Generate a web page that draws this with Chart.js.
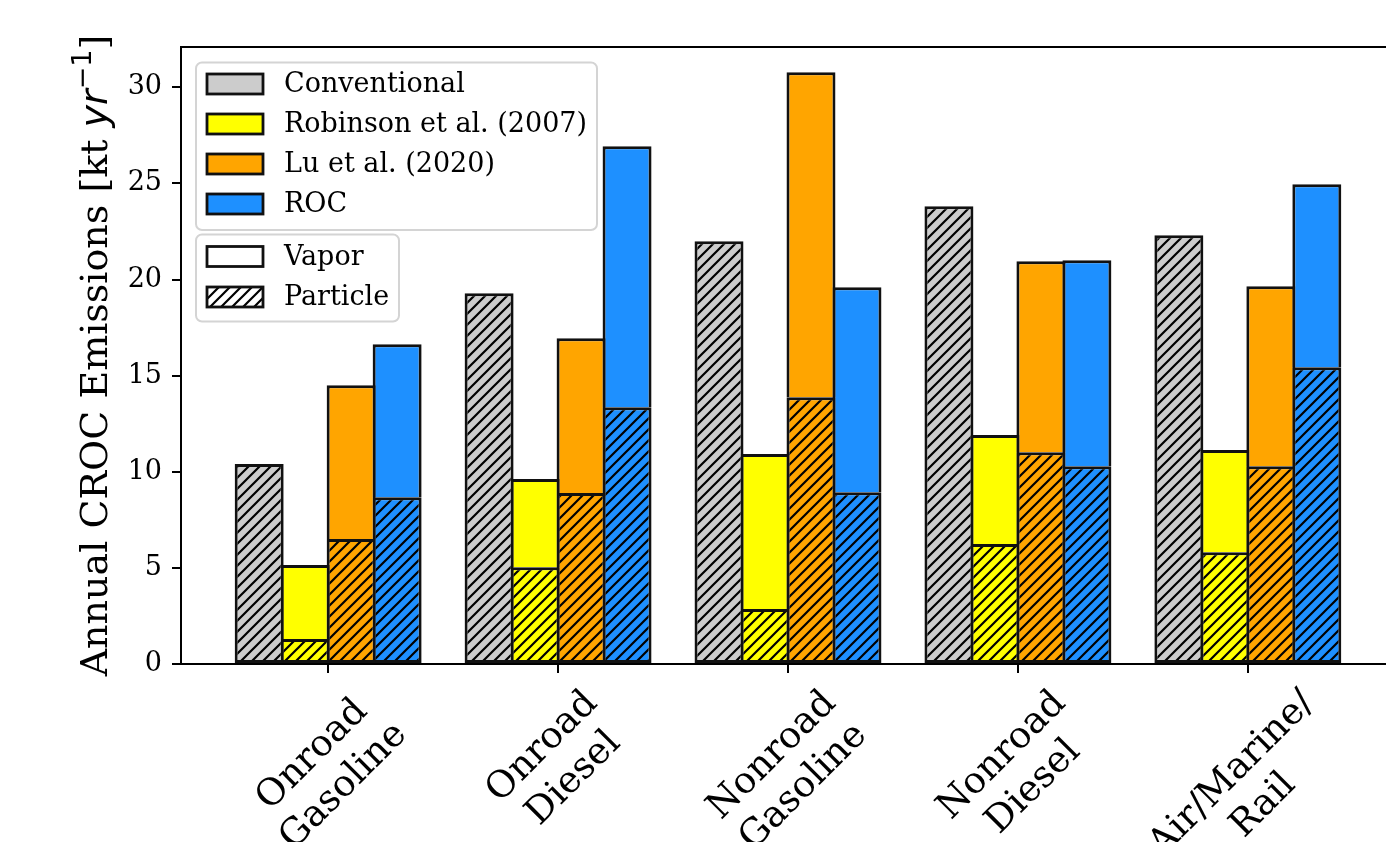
<!DOCTYPE html>
<html>
<head>
<meta charset="utf-8">
<script src="https://cdn.jsdelivr.net/npm/chart.js@4.4.1/dist/chart.umd.min.js"></script>
<style>
  html, body { margin: 0; padding: 0; background: #fff; overflow: hidden; width: 1386px; height: 842px; }
  #wrap { position: relative; width: 1400px; height: 842px; }
</style>
</head>
<body>
<div id="wrap"><canvas id="c" width="1400" height="842"></canvas></div>
<script>
// Source categories (multi-line tick labels)
const categories = [
  ['Onroad', 'Gasoline'],
  ['Onroad', 'Diesel'],
  ['Nonroad', 'Gasoline'],
  ['Nonroad', 'Diesel'],
  ['Air/Marine/', 'Rail']
];

// Annual CROC emissions, kt/yr, split into particle and vapor phase
const conventionalParticle = [10.40, 19.29, 21.99, 23.81, 22.30];
const robinsonParticle     = [1.30, 5.04, 2.86, 6.24, 5.82];
const robinsonVapor        = [3.85, 4.58, 8.06, 5.67, 5.31];
const luParticle           = [6.50, 8.89, 13.88, 11.02, 10.29];
const luVapor              = [8.00, 8.06, 16.90, 9.93, 9.36];
const rocParticle          = [8.68, 13.36, 8.94, 10.29, 15.44];
const rocVapor             = [7.96, 13.57, 10.66, 10.71, 9.52];

const yTicks = [0, 5, 10, 15, 20, 25, 30];

const methodNames = ['Conventional', 'Robinson et al. (2007)', 'Lu et al. (2020)', 'ROC'];
const phaseNames = ['Vapor', 'Particle'];

const COLORS = { conv: '#cccccc', rob: '#ffff00', lu: '#ffa500', roc: '#1e90ff' };
const SERIF = '"DejaVu Serif", serif';
const EDGE = 3;

const canvas = document.getElementById('c');
const mainCtx = canvas.getContext('2d');

// diagonal "///" hatch pattern on a coloured background
function hatch(color) {
  const s = 11;
  const t = document.createElement('canvas');
  t.width = s; t.height = s;
  const g = t.getContext('2d');
  g.fillStyle = color;
  g.fillRect(0, 0, s, s);
  g.strokeStyle = '#000';
  g.lineWidth = 2.2;
  g.beginPath();
  g.moveTo(-1, s + 1); g.lineTo(s + 1, -1);
  g.moveTo(-s / 2 - 1, s / 2 + 1); g.lineTo(s / 2 + 1, -s / 2 - 1);
  g.moveTo(s / 2 - 1, s * 1.5 + 1); g.lineTo(s * 1.5 + 1, s / 2 - 1);
  g.stroke();
  return mainCtx.createPattern(t, 'repeat');
}

const toPoints = arr => arr.map((v, i) => ({ x: i, y: v }));

function particleSet(label, values, color, stack) {
  return {
    label, stack, data: toPoints(values),
    backgroundColor: hatch(color),
    borderColor: '#111', borderWidth: EDGE, borderSkipped: false
  };
}
function vaporSet(label, values, color, stack) {
  return {
    label, stack, data: toPoints(values),
    backgroundColor: color,
    borderColor: '#111', borderWidth: EDGE, borderSkipped: 'start'
  };
}

const datasets = [
  particleSet('Conventional particle', conventionalParticle, COLORS.conv, 'conv'),
  particleSet('Robinson particle', robinsonParticle, COLORS.rob, 'rob'),
  vaporSet('Robinson vapor', robinsonVapor, COLORS.rob, 'rob'),
  particleSet('Lu particle', luParticle, COLORS.lu, 'lu'),
  vaporSet('Lu vapor', luVapor, COLORS.lu, 'lu'),
  particleSet('ROC particle', rocParticle, COLORS.roc, 'roc'),
  vaporSet('ROC vapor', rocVapor, COLORS.roc, 'roc')
];

function roundRect(ctx, x, y, w, h, r) {
  ctx.beginPath();
  ctx.moveTo(x + r, y);
  ctx.lineTo(x + w - r, y); ctx.arcTo(x + w, y, x + w, y + r, r);
  ctx.lineTo(x + w, y + h - r); ctx.arcTo(x + w, y + h, x + w - r, y + h, r);
  ctx.lineTo(x + r, y + h); ctx.arcTo(x, y + h, x, y + h - r, r);
  ctx.lineTo(x, y + r); ctx.arcTo(x, y, x + r, y, r);
  ctx.closePath();
}

function drawLegendBox(ctx, box, rows) {
  ctx.save();
  roundRect(ctx, box.x, box.y, box.w, box.h, 6);
  ctx.fillStyle = 'rgba(255,255,255,0.8)';
  ctx.fill();
  ctx.strokeStyle = '#d4d4d4';
  ctx.lineWidth = 2;
  ctx.stroke();
  rows.forEach((r, i) => {
    const yc = box.rowY0 + i * box.rowStep;
    ctx.fillStyle = r.fill;
    ctx.fillRect(207, yc - 10, 56, 20);
    ctx.strokeStyle = '#111';
    ctx.lineWidth = 2.8;
    ctx.strokeRect(207, yc - 10, 56, 20);
    ctx.fillStyle = '#000';
    ctx.font = '27px ' + SERIF;
    ctx.textAlign = 'left';
    ctx.textBaseline = 'middle';
    ctx.fillText(r.label, 284, yc + 1);
  });
  ctx.restore();
}

const decorations = {
  id: 'decorations',
  afterDraw(chart) {
    const ctx = chart.ctx;
    const area = chart.chartArea;
    const xs = chart.scales.x;

    ctx.save();
    // top spine
    ctx.strokeStyle = '#000';
    ctx.lineWidth = 2;
    ctx.beginPath();
    ctx.moveTo(area.left - 1, area.top);
    ctx.lineTo(area.right, area.top);
    ctx.stroke();

    // rotated, centred two-line category labels
    const fs = 37, lh = fs * 1.2;
    ctx.font = fs + 'px ' + SERIF;
    ctx.fillStyle = '#000';
    categories.forEach((lines, i) => {
      const px = xs.getPixelForValue(i);
      const W = Math.max(...lines.map(l => ctx.measureText(l).width));
      const H = lines.length * lh;
      const side = (W + H) * Math.SQRT1_2;
      const cy = 682 + side / 2;
      ctx.save();
      ctx.translate(px, cy);
      ctx.rotate(-Math.PI / 4);
      ctx.textAlign = 'center';
      ctx.textBaseline = 'middle';
      lines.forEach((l, k) => ctx.fillText(l, 0, (k - (lines.length - 1) / 2) * lh));
      ctx.restore();
    });

    // y axis title with italic unit and superscript
    const segs = [
      { t: 'Annual CROC Emissions [kt ', f: '38px ' + SERIF, dy: 0 },
      { t: 'yr', f: 'italic 38px "DejaVu Sans"', dy: 0 },
      { t: '\u22121', f: '27px "DejaVu Sans"', dy: -16 },
      { t: ']', f: '38px ' + SERIF, dy: 0 }
    ];
    let total = 0;
    segs.forEach(s => { ctx.font = s.f; s.w = ctx.measureText(s.t).width; total += s.w; });
    ctx.save();
    ctx.translate(107, (area.top + area.bottom) / 2);
    ctx.rotate(-Math.PI / 2);
    ctx.textAlign = 'left';
    ctx.textBaseline = 'alphabetic';
    let x = -total / 2;
    segs.forEach(s => { ctx.font = s.f; ctx.fillText(s.t, x, s.dy); x += s.w; });
    ctx.restore();

    // legends
    drawLegendBox(ctx, { x: 196, y: 62.5, w: 401, h: 167.5, rowY0: 84, rowStep: 40 }, [
      { label: methodNames[0], fill: COLORS.conv },
      { label: methodNames[1], fill: COLORS.rob },
      { label: methodNames[2], fill: COLORS.lu },
      { label: methodNames[3], fill: COLORS.roc }
    ]);
    drawLegendBox(ctx, { x: 196, y: 234.5, w: 203, h: 87, rowY0: 256.5, rowStep: 40.5 }, [
      { label: phaseNames[0], fill: '#ffffff' },
      { label: phaseNames[1], fill: hatch('#ffffff') }
    ]);
    ctx.restore();
  }
};

new Chart(canvas, {
  type: 'bar',
  data: { datasets },
  options: {
    responsive: false,
    animation: false,
    devicePixelRatio: 1,
    layout: { padding: { top: 47, right: 5, left: 0, bottom: 0 } },
    datasets: { bar: { categoryPercentage: 0.8, barPercentage: (46 + EDGE) / 46 } },
    plugins: { legend: { display: false }, tooltip: { enabled: false }, title: { display: false } },
    scales: {
      x: {
        type: 'linear',
        min: -0.64, max: 4.64,
        offset: false,
        stacked: true,
        afterBuildTicks: s => { s.ticks = categories.map((_, i) => ({ value: i })); },
        afterFit: s => { s.height = 178; },
        ticks: { display: false },
        grid: { display: true, offset: false, drawOnChartArea: false, drawTicks: true, tickLength: 9, color: '#000', lineWidth: 2 },
        border: { display: true, color: '#000', width: 2 }
      },
      y: {
        min: 0, max: 32.1,
        stacked: true,
        afterBuildTicks: s => { s.ticks = yTicks.map(v => ({ value: v })); },
        afterFit: s => { s.width = 181; },
        ticks: { color: '#000', padding: 10, font: { family: 'DejaVu Serif', size: 27 } },
        grid: { display: true, drawOnChartArea: false, drawTicks: true, tickLength: 9, color: '#000', lineWidth: 2 },
        border: { display: true, color: '#000', width: 2 }
      }
    }
  },
  plugins: [decorations]
});
</script>
</body>
</html>
